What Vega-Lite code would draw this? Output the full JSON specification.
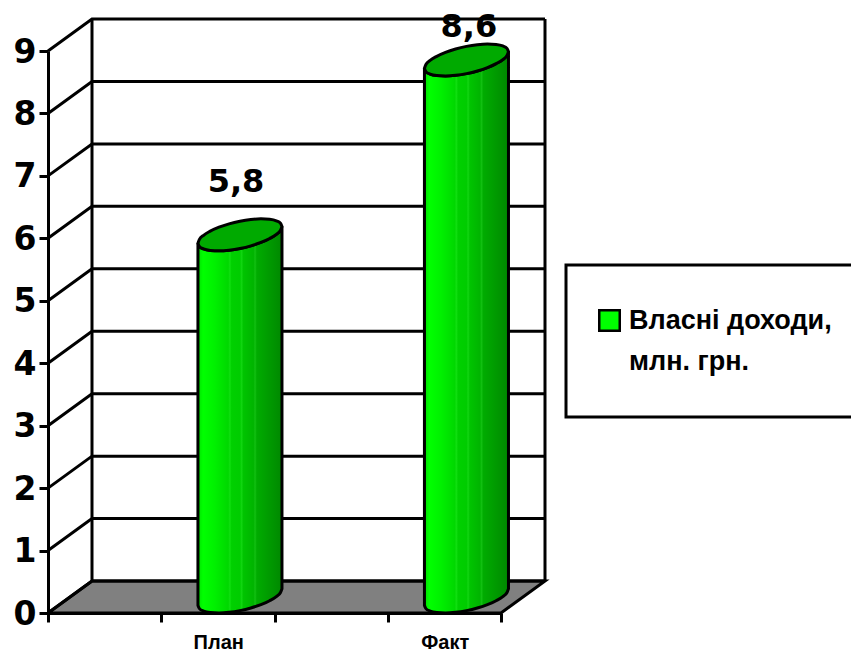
{"$schema":"https://vega.github.io/schema/vega-lite/v6.json","width":453,"height":562,"autosize":"none","padding":{"left":48,"top":51,"right":350,"bottom":42},"background":"white","config":{"view":{"stroke":null},"style":{"guide-label":{"lineHeight":41}}},
"datasets":{
"floor":[{"x":0,"y":0,"y2":0},{"x":0.3885,"y":0.512,"y2":0},{"x":4,"y":0.512,"y2":0},{"x":4.3885,"y":0.512,"y2":0.512}],
"grid":[{"s":"0","x":0,"y":0},{"s":"0","x":0.3885,"y":0.512},{"s":"0","x":4.3885,"y":0.512},{"s":"1","x":0,"y":1},{"s":"1","x":0.3885,"y":1.512},{"s":"1","x":4.3885,"y":1.512},{"s":"2","x":0,"y":2},{"s":"2","x":0.3885,"y":2.512},{"s":"2","x":4.3885,"y":2.512},{"s":"3","x":0,"y":3},{"s":"3","x":0.3885,"y":3.512},{"s":"3","x":4.3885,"y":3.512},{"s":"4","x":0,"y":4},{"s":"4","x":0.3885,"y":4.512},{"s":"4","x":4.3885,"y":4.512},{"s":"5","x":0,"y":5},{"s":"5","x":0.3885,"y":5.512},{"s":"5","x":4.3885,"y":5.512},{"s":"6","x":0,"y":6},{"s":"6","x":0.3885,"y":6.512},{"s":"6","x":4.3885,"y":6.512},{"s":"7","x":0,"y":7},{"s":"7","x":0.3885,"y":7.512},{"s":"7","x":4.3885,"y":7.512},{"s":"8","x":0,"y":8},{"s":"8","x":0.3885,"y":8.512},{"s":"8","x":4.3885,"y":8.512},{"s":"9","x":0,"y":9},{"s":"9","x":0.3885,"y":9.512},{"s":"9","x":4.3885,"y":9.512}],
"walls":[{"s":"back","x":0.3885,"y":0.512},{"s":"back","x":0.3885,"y":9.512},{"s":"right","x":4.3885,"y":0.512},{"s":"right","x":4.3885,"y":9.512}],
"cyl":[
{"cat":"План","x":1.324,"up":5.922,"lo":5.922,"bot":0.122},{"cat":"План","x":1.337,"up":5.983,"lo":5.870,"bot":0.070},{"cat":"План","x":1.374,"up":6.049,"lo":5.831,"bot":0.031},{"cat":"План","x":1.433,"up":6.115,"lo":5.807,"bot":0.007},{"cat":"План","x":1.510,"up":6.178,"lo":5.800,"bot":0},{"cat":"План","x":1.599,"up":6.232,"lo":5.811,"bot":0.011},{"cat":"План","x":1.695,"up":6.274,"lo":5.838,"bot":0.038},{"cat":"План","x":1.791,"up":6.301,"lo":5.880,"bot":0.080},{"cat":"План","x":1.880,"up":6.312,"lo":5.934,"bot":0.134},{"cat":"План","x":1.957,"up":6.305,"lo":5.997,"bot":0.197},{"cat":"План","x":2.016,"up":6.281,"lo":6.063,"bot":0.263},{"cat":"План","x":2.053,"up":6.242,"lo":6.129,"bot":0.329},{"cat":"План","x":2.066,"up":6.190,"lo":6.190,"bot":0.390},
{"cat":"Факт","x":3.324,"up":8.722,"lo":8.722,"bot":0.122},{"cat":"Факт","x":3.337,"up":8.783,"lo":8.670,"bot":0.070},{"cat":"Факт","x":3.374,"up":8.849,"lo":8.631,"bot":0.031},{"cat":"Факт","x":3.433,"up":8.915,"lo":8.607,"bot":0.007},{"cat":"Факт","x":3.510,"up":8.978,"lo":8.600,"bot":0},{"cat":"Факт","x":3.599,"up":9.032,"lo":8.611,"bot":0.011},{"cat":"Факт","x":3.695,"up":9.074,"lo":8.638,"bot":0.038},{"cat":"Факт","x":3.791,"up":9.101,"lo":8.680,"bot":0.080},{"cat":"Факт","x":3.880,"up":9.112,"lo":8.734,"bot":0.134},{"cat":"Факт","x":3.957,"up":9.105,"lo":8.797,"bot":0.197},{"cat":"Факт","x":4.016,"up":9.081,"lo":8.863,"bot":0.263},{"cat":"Факт","x":4.053,"up":9.042,"lo":8.929,"bot":0.329},{"cat":"Факт","x":4.066,"up":8.990,"lo":8.990,"bot":0.390}],
"labels":[{"cat":"План","value":5.8,"text":"5,8","x":1.66,"y":6.9},{"cat":"Факт","value":8.6,"text":"8,6","x":3.717,"y":9.385}],
"box":[{"x":4.574,"x2":7.12,"y":5.573,"y2":3.139}],
"series":[{"series":"Власні доходи,|млн. грн.","x":0,"y":0}]
},
"layer":[
{"data":{"name":"box"},"mark":{"type":"rect","fill":"white","stroke":"black","strokeWidth":3,"clip":false},"encoding":{"x":{"field":"x","type":"quantitative","scale":{"domain":[0,4],"nice":false,"zero":false},"axis":{"values":[0,1,2,3,4],"title":null,"grid":false,"domainColor":"black","domainWidth":3,"tickColor":"black","tickWidth":3,"tickSize":9,"labelExpr":"datum.value==1?'План':datum.value==3?'Факт':''","labelOffset":57,"labelFont":"Liberation Sans","labelFontWeight":"bold","labelFontSize":20,"labelColor":"black","labelPadding":10,"labelOverlap":false,"labelFlush":false,"labelBound":false}},"x2":{"field":"x2"},"y":{"field":"y","type":"quantitative","scale":{"domain":[0,9],"nice":false,"zero":false},"axis":{"values":[0,1,2,3,4,5,6,7,8,9],"format":"d","title":null,"grid":false,"domainColor":"black","domainWidth":3,"tickColor":"black","tickWidth":3,"tickSize":9,"labelFont":"DejaVu Sans","labelFontWeight":"bold","labelFontSize":33,"labelColor":"black","labelPadding":3,"labelOffset":1,"labelOverlap":false,"labelFlush":false,"labelBound":false}},"y2":{"field":"y2"}}},
{"data":{"name":"floor"},"mark":{"type":"area","fill":"#808080","stroke":"black","strokeWidth":3,"clip":false},"encoding":{"x":{"field":"x","type":"quantitative"},"y":{"field":"y","type":"quantitative"},"y2":{"field":"y2"}}},
{"data":{"name":"grid"},"mark":{"type":"line","color":"black","strokeWidth":3,"clip":false},"encoding":{"x":{"field":"x","type":"quantitative"},"y":{"field":"y","type":"quantitative"},"detail":{"field":"s"},"order":{"field":"x"}}},
{"data":{"name":"walls"},"mark":{"type":"line","color":"black","strokeWidth":3,"clip":false},"encoding":{"x":{"field":"x","type":"quantitative"},"y":{"field":"y","type":"quantitative"},"detail":{"field":"s"},"order":{"field":"y"}}},
{"data":{"name":"cyl"},"mark":{"type":"area","interpolate":"monotone","stroke":"black","strokeWidth":3,"clip":false,"fill":{"x1":0,"y1":0,"x2":1,"y2":0,"gradient":"linear","stops":[{"offset":0,"color":"#00e000"},{"offset":0.06,"color":"#00ff00"},{"offset":0.2,"color":"#00f000"},{"offset":0.36,"color":"#00d800"},{"offset":0.38,"color":"#10e010"},{"offset":0.4,"color":"#00d000"},{"offset":0.5,"color":"#00cc00"},{"offset":0.52,"color":"#12d612"},{"offset":0.54,"color":"#00c400"},{"offset":0.66,"color":"#00b400"},{"offset":0.68,"color":"#12c012"},{"offset":0.7,"color":"#00ac00"},{"offset":0.8,"color":"#00a000"},{"offset":1,"color":"#008800"}]}},"encoding":{"x":{"field":"x","type":"quantitative"},"y":{"field":"lo","type":"quantitative"},"y2":{"field":"bot"},"detail":{"field":"cat"}}},
{"data":{"name":"cyl"},"mark":{"type":"area","interpolate":"monotone","fill":"#00aa00","stroke":"black","strokeWidth":3,"clip":false},"encoding":{"x":{"field":"x","type":"quantitative"},"y":{"field":"up","type":"quantitative"},"y2":{"field":"lo"},"detail":{"field":"cat"}}},
{"data":{"name":"labels"},"mark":{"type":"text","font":"DejaVu Sans","fontWeight":"bold","fontSize":32,"color":"black","clip":false},"encoding":{"x":{"field":"x","type":"quantitative"},"y":{"field":"y","type":"quantitative"},"text":{"field":"text"}}},
{"data":{"name":"series"},"mark":{"type":"point","filled":true,"size":0,"opacity":0,"clip":false},"encoding":{"x":{"field":"x","type":"quantitative"},"y":{"field":"y","type":"quantitative"},"color":{"field":"series","type":"nominal","scale":{"range":["#00ff00"]},"legend":{"title":null,"orient":"none","legendX":548,"legendY":256,"symbolType":"square","symbolSize":420,"symbolOpacity":1,"symbolStrokeColor":"black","symbolStrokeWidth":2.5,"symbolFillColor":"#00ff00","labelFont":"Liberation Sans","labelFontWeight":"bold","labelFontSize":27,"labelColor":"black","labelLimit":400,"labelOffset":6,"labelOpacity":1,"labelExpr":"split(datum.label,'|')"}}}}
],"resolve":{"scale":{"color":"independent"}}}
